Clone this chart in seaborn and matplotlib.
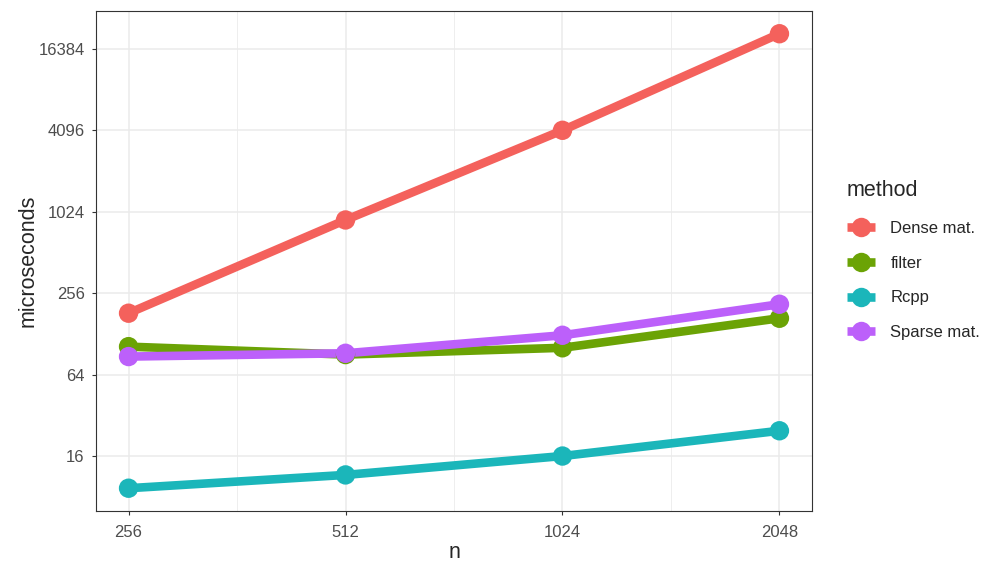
import pandas as pd
import matplotlib
matplotlib.use("Agg")
import matplotlib.pyplot as plt
from matplotlib.lines import Line2D
import seaborn as sns

# benchmark timings
n_values = [256, 512, 1024, 2048]
dense_mat = [182, 890, 4096, 21200]
filter_times = [103, 90, 101, 167]
rcpp_times = [9.25, 11.6, 16, 24.6]
sparse_mat = [87, 92, 125, 212]
methods = ["Dense mat.", "filter", "Rcpp", "Sparse mat."]
colors = ["#F4615C", "#6BA305", "#1BB6BA", "#BC60FA"]
y_ticks = [16, 64, 256, 1024, 4096, 16384]

df = pd.DataFrame({
    "n": n_values * 4,
    "microseconds": dense_mat + filter_times + rcpp_times + sparse_mat,
    "method": [m for m in methods for _ in n_values],
})

sns.set_style("white")
plt.rcParams["font.family"] = ["Liberation Sans", "DejaVu Sans"]

fig = plt.figure(figsize=(10.08, 5.76), dpi=100)
ax = fig.add_axes([96 / 1008, 1 - 511 / 576, 716 / 1008, 500 / 576])
pal = dict(zip(methods, colors))

sns.lineplot(data=df, x="n", y="microseconds", hue="method", palette=pal,
             linewidth=6.2, legend=False, ax=ax, zorder=3)
sns.scatterplot(data=df, x="n", y="microseconds", hue="method", palette=pal,
                s=195, linewidth=0, legend=False, ax=ax, zorder=4)

ax.set_xscale("log", base=2)
ax.set_yscale("log", base=2)

ax.set_xticks(n_values)
ax.set_xticklabels([str(v) for v in n_values])
ax.set_yticks(y_ticks)
ax.set_yticklabels([str(v) for v in y_ticks])
ax.set_xticks([2 ** (k + 0.5) for k in range(7, 12)], minor=True)
ax.set_yticks([2 ** (k + 1) for k in range(1, 16, 2)], minor=True)
ax.xaxis.set_minor_formatter(plt.NullFormatter())
ax.yaxis.set_minor_formatter(plt.NullFormatter())
ax.set_xlim(2 ** 7.85, 2 ** 11.15)
ax.set_ylim(2 ** 2.65, 2 ** 14.93)

ax.grid(True, which="major", color="#EBEBEB", linewidth=1.1, zorder=0)
ax.grid(True, which="minor", color="#EBEBEB", linewidth=0.6, zorder=0)
ax.set_axisbelow(True)
ax.tick_params(which="major", direction="out", length=3.2, width=0.8,
               color="#333333", labelsize=12, labelcolor="#4D4D4D",
               bottom=True, left=True)
ax.tick_params(axis="x", which="major", pad=7)
ax.tick_params(axis="y", which="major", pad=5)
ax.tick_params(which="minor", length=0)
for sp in ax.spines.values():
    sp.set_color("#333333")
    sp.set_linewidth(0.8)

ax.set_xlabel("n", fontsize=15.5, labelpad=1)
ax.set_ylabel("microseconds", fontsize=15.5, labelpad=0)

handles = [Line2D([0], [0], color=c, linewidth=6.2, marker="o", markersize=14,
                  markeredgewidth=0, solid_capstyle="butt") for c in colors]
fig.legend(handles, methods, title="method", loc="upper left",
           bbox_to_anchor=(832 / 1008, 1 - 165 / 576), frameon=False,
           fontsize=12, title_fontsize=15.5, handlelength=1.7,
           handletextpad=0.9, labelspacing=1.19, alignment="left")

fig.savefig("out.png", dpi=100)
